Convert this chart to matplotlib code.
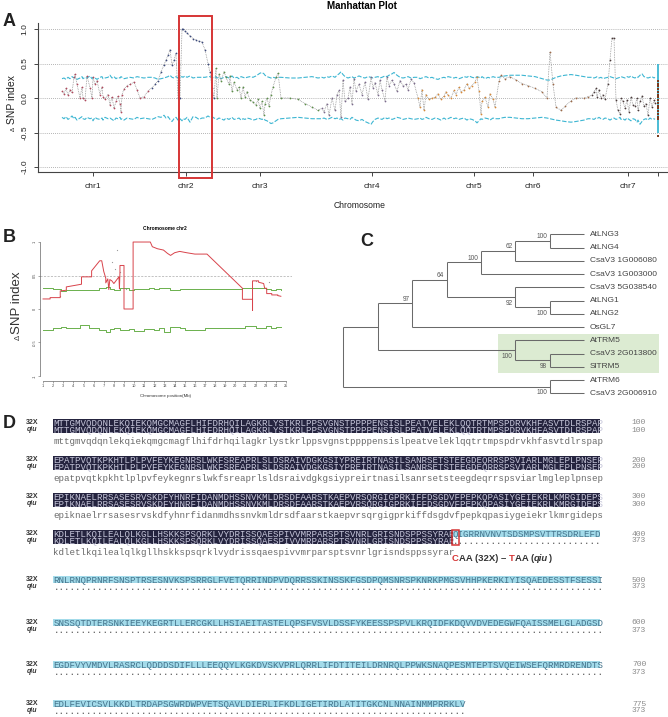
import matplotlib
matplotlib.use("Agg")
import matplotlib.pyplot as plt
from matplotlib.patches import Rectangle

plt.rcParams["font.family"] = ["Liberation Sans", "DejaVu Sans"]

# ---------------------------------------------------------------------------
# Panel A data: delta SNP index along the genome (cumulative position units)
# ---------------------------------------------------------------------------
chr1_pos = [62, 64, 66, 68, 70, 72, 74, 75, 77, 80, 82, 83, 85, 87, 90, 92, 93, 95, 97, 100,
            102, 103, 105, 108, 110, 112, 114, 116, 118, 120, 121, 122, 124, 127, 130, 134, 137, 140, 144, 148]
chr1_val = [0.10, 0.06, 0.14, 0.04, 0.12, 0.08, 0.30, 0.35, 0.20, 0.00, 0.16, 0.00, -0.03, 0.32, 0.15, 0.00, 0.30, 0.20, 0.25, 0.05,
            0.16, 0.02, -0.02, 0.05, -0.10, 0.02, -0.15, -0.05, 0.03, -0.08, -0.20, 0.05, 0.13, 0.18, 0.20, 0.23, 0.12, 0.00, 0.02, 0.10]
chr1_up = [0.28, 0.29, 0.27, 0.30, 0.28, 0.31, 0.29, 0.30, 0.27, 0.29, 0.31, 0.28, 0.30, 0.29, 0.32, 0.28, 0.30, 0.29, 0.27, 0.30,
           0.31, 0.28, 0.29, 0.30, 0.33, 0.29, 0.31, 0.28, 0.30, 0.29, 0.31, 0.30, 0.28, 0.29, 0.30, 0.29, 0.31, 0.30, 0.29, 0.30]
chr1_lo = [-0.28, -0.30, -0.27, -0.31, -0.29, -0.26, -0.30, -0.28, -0.32, -0.29, -0.27, -0.30, -0.31, -0.28, -0.30, -0.29, -0.33, -0.28, -0.30, -0.31,
           -0.29, -0.32, -0.28, -0.30, -0.29, -0.31, -0.33, -0.29, -0.30, -0.28, -0.31, -0.30, -0.32, -0.29, -0.30, -0.31, -0.28, -0.30, -0.29, -0.30]

chr2_pos = [152, 155, 158, 161, 164, 166, 168, 170, 172, 174, 176, 178, 180, 182, 183, 185, 187, 190, 193, 196,
            199, 202, 205, 208, 210, 212, 214]
chr2_val = [0.15, 0.20, 0.25, 0.38, 0.48, 0.55, 0.62, 0.70, 0.48, 0.55, 0.65, 0.00, 0.00, 1.00, 1.00, 0.97, 0.94, 0.90, 0.86, 0.84,
            0.82, 0.81, 0.70, 0.50, 0.37, 0.15, 0.00]
chr2_up = [0.30, 0.29, 0.27, 0.28, 0.29, 0.30, 0.31, 0.33, 0.30, 0.29, 0.31, 0.29, 0.30, 0.31, 0.30, 0.32, 0.30, 0.32, 0.29, 0.30,
           0.30, 0.30, 0.30, 0.31, 0.31, 0.30, 0.29]
chr2_lo = [-0.31, -0.29, -0.27, -0.28, -0.25, -0.29, -0.27, -0.31, -0.34, -0.30, -0.28, -0.32, -0.30, -0.33, -0.30, -0.31, -0.28, -0.35, -0.27, -0.28,
           -0.31, -0.29, -0.29, -0.26, -0.28, -0.27, -0.29]

chr3_pos = [216, 217, 219, 221, 224, 226, 229, 230, 232, 234, 237, 239, 241, 243, 245, 247, 250, 253, 256, 258,
            260, 262, 264, 265, 267, 269, 271, 273, 276, 278, 281, 290, 298, 305, 312, 318]
chr3_val = [0.43, 0.00, 0.35, 0.25, 0.38, 0.30, 0.20, 0.32, 0.10, 0.23, 0.12, 0.16, 0.00, 0.16, 0.02, 0.09, -0.03, -0.06, -0.10, -0.02,
            -0.15, -0.05, -0.25, -0.08, 0.00, -0.12, 0.05, 0.16, 0.30, 0.36, 0.00, 0.00, -0.02, -0.08, -0.13, -0.18]
chr3_up = [0.31, 0.29, 0.30, 0.28, 0.30, 0.31, 0.29, 0.30, 0.32, 0.29, 0.30, 0.28, 0.31, 0.30, 0.29, 0.30, 0.31, 0.30, 0.32, 0.34,
           0.36, 0.37, 0.35, 0.33, 0.31, 0.30, 0.29, 0.30, 0.29, 0.30, 0.30, 0.29, 0.29, 0.30, 0.31, 0.29]
chr3_lo = [-0.30, -0.31, -0.29, -0.30, -0.32, -0.29, -0.31, -0.30, -0.28, -0.31, -0.30, -0.29, -0.32, -0.30, -0.31, -0.29, -0.30, -0.32, -0.31, -0.29,
           -0.30, -0.31, -0.30, -0.32, -0.33, -0.35, -0.37, -0.36, -0.33, -0.31, -0.30, -0.29, -0.28, -0.29, -0.30, -0.30]

chr4_pos = [322, 324, 327, 329, 332, 335, 337, 339, 341, 343, 345, 348, 350, 352, 354, 356, 359, 362, 365, 368,
            371, 373, 375, 378, 380, 382, 385, 387, 389, 392, 394, 397, 400, 403, 406, 408, 411, 414]
chr4_val = [-0.15, -0.20, -0.08, -0.25, 0.00, -0.18, 0.05, 0.11, -0.28, 0.26, -0.05, 0.00, 0.16, -0.08, 0.28, 0.10, 0.20, 0.05, 0.23, -0.02,
            0.30, 0.15, 0.22, 0.05, 0.26, 0.12, -0.04, 0.30, 0.18, 0.26, 0.20, 0.10, 0.25, 0.18, 0.20, 0.12, 0.27, 0.22]
chr4_up = [0.30, 0.29, 0.31, 0.30, 0.32, 0.30, 0.33, 0.35, 0.38, 0.34, 0.31, 0.29, 0.30, 0.31, 0.29, 0.30, 0.32, 0.30, 0.29, 0.31,
           0.30, 0.29, 0.30, 0.31, 0.29, 0.30, 0.32, 0.31, 0.33, 0.35, 0.37, 0.33, 0.30, 0.29, 0.30, 0.31, 0.29, 0.30]
chr4_lo = [-0.30, -0.29, -0.31, -0.30, -0.28, -0.30, -0.29, -0.31, -0.30, -0.32, -0.29, -0.30, -0.31, -0.28, -0.30, -0.32, -0.33, -0.31, -0.34, -0.36,
           -0.38, -0.34, -0.31, -0.29, -0.30, -0.31, -0.28, -0.30, -0.29, -0.31, -0.30, -0.28, -0.29, -0.31, -0.30, -0.29, -0.30, -0.31]

chr5_pos = [418, 420, 422, 424, 426, 429, 432, 435, 438, 441, 444, 446, 448, 451, 454, 456, 459, 461, 464, 467,
            469, 472, 475, 477, 479, 481, 482, 485, 488, 490, 493, 495]
chr5_val = [0.00, -0.13, 0.12, -0.18, 0.05, -0.02, 0.00, 0.01, 0.06, -0.02, 0.03, 0.09, 0.04, 0.00, 0.11, 0.05, 0.16, 0.09, 0.12, 0.21,
            0.14, 0.18, 0.23, 0.31, 0.10, -0.23, -0.05, 0.01, -0.13, 0.06, -0.02, -0.13]
chr5_up = [0.30, 0.28, 0.29, 0.30, 0.31, 0.29, 0.30, 0.28, 0.27, 0.29, 0.30, 0.29, 0.31, 0.30, 0.29, 0.30, 0.28, 0.29, 0.31, 0.30,
           0.32, 0.30, 0.29, 0.31, 0.30, 0.29, 0.31, 0.28, 0.30, 0.29, 0.31, 0.30]
chr5_lo = [-0.30, -0.29, -0.31, -0.30, -0.28, -0.30, -0.31, -0.29, -0.30, -0.32, -0.29, -0.31, -0.30, -0.28, -0.30, -0.29, -0.31, -0.30, -0.29, -0.32,
           -0.30, -0.31, -0.33, -0.36, -0.33, -0.30, -0.31, -0.29, -0.30, -0.32, -0.29, -0.30]

chr6_pos = [499, 501, 505, 510, 516, 522, 528, 535, 542, 547, 550, 553, 556, 561, 565, 571, 576, 584, 588]
chr6_val = [0.25, 0.33, 0.28, 0.31, 0.26, 0.21, 0.18, 0.14, 0.09, 0.00, 0.67, 0.20, -0.13, -0.18, -0.12, -0.04, 0.00, 0.00, 0.02]
chr6_up = [0.30, 0.31, 0.32, 0.33, 0.33, 0.33, 0.32, 0.31, 0.28, 0.26, 0.26, 0.28, 0.30, 0.32, 0.33, 0.34, 0.33, 0.31, 0.30]
chr6_lo = [-0.30, -0.29, -0.28, -0.28, -0.29, -0.30, -0.30, -0.29, -0.28, -0.29, -0.30, -0.31, -0.32, -0.33, -0.34, -0.35, -0.34, -0.32, -0.30]

chr7_pos = [592, 594, 596, 597, 599, 601, 603, 605, 608, 610, 612, 614, 616, 618, 620, 621, 623, 625, 627, 629,
            631, 633, 635, 637, 638, 640, 642, 644, 646, 648, 650, 652, 654, 655]
chr7_val = [0.04, 0.09, 0.14, 0.02, 0.12, 0.00, 0.05, -0.02, 0.21, 0.55, 0.87, 0.87, -0.03, -0.18, -0.23, 0.00, -0.05, -0.15, -0.03, -0.20,
            0.01, -0.10, -0.11, 0.00, -0.18, -0.05, 0.03, -0.12, -0.08, -0.25, 0.00, -0.13, -0.03, -0.07]
chr7_up = [0.30, 0.29, 0.30, 0.31, 0.29, 0.30, 0.28, 0.29, 0.30, 0.31, 0.30, 0.29, 0.28, 0.29, 0.30, 0.31, 0.30, 0.29, 0.31, 0.30,
           0.32, 0.30, 0.29, 0.31, 0.30, 0.33, 0.35, 0.31, 0.30, 0.29, 0.30, 0.31, 0.29, 0.30]
chr7_lo = [-0.30, -0.31, -0.29, -0.30, -0.28, -0.30, -0.31, -0.29, -0.30, -0.32, -0.30, -0.29, -0.31, -0.30, -0.28, -0.31, -0.30, -0.32, -0.29, -0.31,
           -0.33, -0.30, -0.31, -0.35, -0.32, -0.38, -0.34, -0.31, -0.30, -0.32, -0.29, -0.31, -0.30, -0.31]

scaf_pos = 658
scaf_val = [0.25, 0.21, 0.17, 0.13, 0.09, 0.05, 0.01, -0.03, -0.07, -0.11, -0.15, -0.19, -0.23, -0.27, -0.30, -0.55]
scaf_up, scaf_lo = 0.50, -0.50

chr_colors = ["#b04a5e", "#3d4b7c", "#5d8f4b", "#7c6b8c", "#d68a3a", "#9c6b4a", "#4b3b3b"]
chr_ticks = [93, 186, 260, 372, 474, 533, 628, 658]
chr_labels = ["chr1", "chr2", "chr3", "chr4", "chr5", "chr6", "chr7", ""]

# ---------------------------------------------------------------------------
# Panel B data: chromosome 2 zoom (Mb)
# ---------------------------------------------------------------------------
b_pos = [1.0, 1.7, 1.7, 2.7, 2.7, 3.3, 3.3, 4.8, 4.8, 5.8, 5.8, 6.6, 6.8, 7.0, 7.2, 7.2, 7.4, 7.5, 7.6, 7.8,
         8.0, 8.2, 8.5, 8.55, 8.6, 8.6, 9.0, 9.0, 9.9, 9.9, 11.6, 11.8, 12.3, 12.9, 13.3, 13.6, 14.0, 14.5, 15.2, 16.0,
         17.2, 20.7, 20.7, 21.7, 21.7, 21.7, 22.3, 22.3, 22.8, 22.9, 23.1, 23.1, 23.6, 23.6, 24.2, 24.2, 24.5]
b_val = [0.15, 0.15, 0.17, 0.17, 0.27, 0.28, 0.33, 0.37, 0.48, 0.48, 0.57, 0.72, 0.72, 0.56, 0.46, 0.39, 0.45, 0.29, 0.44, 0.42,
         0.38, 0.42, 0.48, 0.30, 0.55, 0.65, 0.65, 0.00, 0.00, 1.00, 1.00, 0.93, 0.90, 0.88, 0.83, 0.80, 0.84, 0.86, 0.84, 0.82,
         0.82, 0.31, 0.145, 0.145, -0.02, 0.42, 0.42, 0.40, 0.38, 0.31, 0.31, 0.23, 0.23, 0.21, 0.21, 0.20, 0.19]
b_thr_pos = [1.0, 2.0, 2.8, 3.3, 4.5, 4.7, 5.5, 6.5, 7.2, 7.6, 8.0, 8.6, 9.5, 10.0, 11.0, 11.5, 12.0, 12.5, 13.0, 13.5,
             14.5, 15.0, 17.0, 20.7, 21.0, 22.0, 23.0, 23.5, 24.0, 24.5]
b_thr_up = [0.31, 0.30, 0.27, 0.28, 0.29, 0.29, 0.29, 0.31, 0.33, 0.30, 0.29, 0.31, 0.29, 0.30, 0.30, 0.32, 0.30, 0.31, 0.32, 0.29,
            0.30, 0.30, 0.30, 0.31, 0.31, 0.31, 0.30, 0.28, 0.30, 0.29]
b_thr_lo = [-0.31, -0.29, -0.27, -0.28, -0.28, -0.24, -0.29, -0.31, -0.34, -0.30, -0.28, -0.32, -0.30, -0.33, -0.30, -0.30, -0.31, -0.28, -0.35, -0.27,
            -0.28, -0.31, -0.29, -0.29, -0.26, -0.28, -0.26, -0.29, -0.27, -0.27]
b_snp_pos = [2.7, 7.4, 7.8, 8.1, 8.3, 8.6, 9.2, 22.0, 23.3]
b_snp_val = [0.20, 0.35, 0.70, 0.60, 0.88, 0.55, 0.30, 0.42, 0.40]

# ---------------------------------------------------------------------------
# Panel C data: phylogeny (support, child, child); leaves are strings
# ---------------------------------------------------------------------------
tree = (None,
        (None,
         (97,
          (64,
           (100,
            (62, (100, "AtLNG3", "AtLNG4"), "CsaV3 1G006080"),
            "CsaV3 1G003000"),
           (92, "CsaV3 5G038540", (100, "AtLNG1", "AtLNG2"))),
          "OsGL7"),
         (100, "AtTRM5", (98, "CsaV3 2G013800", "SlTRM5"))),
        (100, "AtTRM6", "CsaV3 2G006910"))
highlight_leaves = ["AtTRM5", "CsaV3 2G013800", "SlTRM5"]

# ---------------------------------------------------------------------------
# Panel D data: protein alignment
# ---------------------------------------------------------------------------
seq_32x = (
    "MTTGMVQDQNLEKQIEKQMGCMAGFLHIFDRHQILAGKRLYSTKRLPPSVGNSTPPPPENSISLPEATVELEKLQQTRTMPSPDRVKHFASVTDLRSPAP"
    "EPATPVQTKPKHTLPLPVFEYKEGNRSLWKFSREAPRLSLDSRAIVDGKGSIYPREIRTNASILSANRSETSTEEGDEQRRSPSVIARLMGLEPLPNSEP"
    "EPIKNAELRRSASESRVSKDFYHNRFIDANMDHSSNVKMLDRSDFAARSTKAEPVRSQRGIGPRKIFFDSGDVFPEPKQPASIYGEIEKRLKMRGIDEPS"
    "KDLETLKQILEALQLKGLLHSKKSPSQRKLVYDRISSQAESPIVVMRPARSPTSVNRLGRISNDSPPSSYRARQIGRRNVNVTSDSMPSVTTRSDRLEFD"
    "RNLRNQPRNRFSNSPTRSESNVKSPSRRGLFVETQRRINDPVDQRRSSKINSSKFGSDPQMSNRSPKNRKPMGSVHHPKERKIYISQAEDESSTFSESSI"
    "SNSSQTDTERSNKIEEYKEGRTLLERCGKLLHSIAEITASTELQPSFVSVLDSSFYKEESSPSPVLKRQIDFKDQVVDVEDEGWFQAISSMELGLADGSD"
    "EGDFVYVMDVLRASRCLQDDDSDIFLLLEEQQYLKGKDVSKVPRLQRRLIFDTITEILDRNRQLPPWKSNAQPESMTEPTSVQEIWSEFQRMRDRENDTS"
    "EDLFEVICSVLKKDLTRDAPSGWRDWPVETSQAVLDIERLIFKDLIGETIRDLATITGKCNLNNAINMMPRRKLV"
)
qiu_len = 373
block_tops = [423, 460, 497, 534, 580, 623, 665, 704]

# ---------------------------------------------------------------------------
W, H = 668, 717
fig = plt.figure(figsize=(W / 100, H / 100), dpi=100)


def px_axes(x0, y0, x1, y1, **kw):
    return fig.add_axes([x0 / W, 1 - y1 / H, (x1 - x0) / W, (y1 - y0) / H], **kw)


ov = fig.add_axes([0, 0, 1, 1], zorder=5)
ov.set_xlim(0, W)
ov.set_ylim(H, 0)
ov.axis("off")

# ---------------- Panel A ----------------
axA = px_axes(38, 23, 668, 172)
axA.set_xlim(38, 668)
axA.set_ylim(-1.072, 1.087)
for y in (-1, -0.5, 0, 0.5, 1):
    axA.axhline(y, color="#9c9c9c", lw=0.6, ls=(0, (1, 1.5)), zorder=0)

cyan = "#3db6d2"
chroms = [(chr1_pos, chr1_val, chr1_up, chr1_lo), (chr2_pos, chr2_val, chr2_up, chr2_lo),
          (chr3_pos, chr3_val, chr3_up, chr3_lo), (chr4_pos, chr4_val, chr4_up, chr4_lo),
          (chr5_pos, chr5_val, chr5_up, chr5_lo), (chr6_pos, chr6_val, chr6_up, chr6_lo),
          (chr7_pos, chr7_val, chr7_up, chr7_lo)]
all_pos, all_val, all_up, all_lo = [], [], [], []
for (pos, val, up, lo), col in zip(chroms, chr_colors):
    axA.scatter(pos, val, s=1.6, color=col, lw=0, zorder=4)
    all_pos += pos
    all_val += val
    all_up += up
    all_lo += lo
axA.plot(all_pos, all_up, color=cyan, lw=0.8, ls=(0, (4, 1.5)), zorder=2)
axA.plot(all_pos, all_lo, color=cyan, lw=0.8, ls=(0, (4, 1.5)), zorder=2)
axA.plot(all_pos, all_val, color="#8a8a8a", lw=0.55, ls=(0, (1, 1.2)), zorder=3)
axA.vlines(scaf_pos, scaf_lo, scaf_up, color=cyan, lw=1.3, zorder=3)
axA.scatter([scaf_pos] * len(scaf_val), scaf_val, s=3, marker="s", color="#7a3a1c", lw=0, zorder=4)

for side in ("top", "right"):
    axA.spines[side].set_visible(False)
for side in ("left", "bottom"):
    axA.spines[side].set_linewidth(0.8)
    axA.spines[side].set_color("#444444")
axA.set_yticks([-1, -0.5, 0, 0.5, 1])
axA.set_yticklabels(["-1.0", "-0.5", "0.0", "0.5", "1.0"], rotation=90, va="center")
axA.set_xticks(chr_ticks)
axA.set_xticklabels(chr_labels)
axA.tick_params(axis="both", labelsize=6, length=3, width=0.7, color="#444444", labelcolor="#222222")
axA.tick_params(axis="y", pad=4)
axA.tick_params(axis="x", pad=5)
axA.set_facecolor("none")

fig.text(362 / W, 1 - 6 / H, "Manhattan Plot", ha="center", va="center", fontsize=7, fontweight="bold")
ov.text(360, 206, "Chromosome", ha="center", va="center", fontsize=6.2, color="#222222")
ov.text(12, 100, "SNP index", ha="center", va="center", rotation=90, fontsize=7.5, color="#222222")
ov.text(13, 129, "Δ", ha="center", va="center", rotation=90, fontsize=4.5, color="#222222")
ov.add_patch(Rectangle((179, 16), 33, 162, fill=False, ec="#d63535", lw=1.4))

# ---------------- Panel B ----------------
axB = px_axes(40, 237, 292, 381)
axB.set_xlim(0.70, 25.6)
axB.set_ylim(-1.075, 1.075)
axB.axhline(0.5, color="#aaaaaa", lw=0.5, ls=(0, (3, 2)), zorder=0)
axB.plot(b_thr_pos, b_thr_up, color="#6ab04c", lw=0.7, drawstyle="steps-post")
axB.plot(b_thr_pos, b_thr_lo, color="#6ab04c", lw=0.7, drawstyle="steps-post")
axB.plot(b_pos, b_val, color="#d8434b", lw=0.7)
axB.scatter(b_snp_pos, b_snp_val, s=0.8, color="#999999", lw=0)
for side in ("top", "right"):
    axB.spines[side].set_visible(False)
axB.spines["left"].set_bounds(-1, 1)
axB.spines["bottom"].set_bounds(1, 25)
for side in ("left", "bottom"):
    axB.spines[side].set_linewidth(0.5)
    axB.spines[side].set_color("#666666")
axB.set_xticks(range(1, 26))
axB.set_yticks([-1, -0.5, 0, 0.5, 1])
axB.set_yticklabels(["-1", "-0.5", "0", "0.5", "1"], rotation=90, va="center")
axB.tick_params(axis="both", labelsize=2.8, length=1.5, width=0.4, pad=1, color="#666666", labelcolor="#444444")
axB.set_facecolor("none")

ov.text(165, 229, "Chromosome chr2", ha="center", va="center", fontsize=3.5, fontweight="bold")
ov.text(165, 396, "Chromosome position(Mb)", ha="center", va="center", fontsize=3.2, color="#333333")
ov.text(17, 303, "SNP index", ha="center", va="center", rotation=90, fontsize=9.5, color="#333333")
ov.text(18, 337, "Δ", ha="center", va="center", rotation=90, fontsize=5.5, color="#333333")

# ---------------- Panel C ----------------
tree_x0, depth_step = 343.3, 34.4
tree_top, leaf_step = 234.3, 13.25
line_kw = dict(color="#6a6a6a", lw=0.75, solid_capstyle="butt")


def height(n):
    return 0 if isinstance(n, str) else 1 + max(height(c) for c in n[1:])


leaves = []


def collect(n):
    if isinstance(n, str):
        leaves.append(n)
    else:
        for c in n[1:]:
            collect(c)


collect(tree)
root_h = height(tree)
hl = [leaves.index(name) for name in highlight_leaves]
ov.add_patch(Rectangle((497.7, tree_top + min(hl) * leaf_step - 6.5), 161.6,
                       (max(hl) - min(hl)) * leaf_step + 13, color="#dcebd2", lw=0, zorder=0))


def draw(n):
    x = tree_x0 + (root_h - height(n)) * depth_step
    if isinstance(n, str):
        y = tree_top + leaves.index(n) * leaf_step
        ov.text(x + 6, y, n, ha="left", va="center", fontsize=6, color="#444444")
        return x, y
    pts = [draw(c) for c in n[1:]]
    ys = [p[1] for p in pts]
    ov.plot([x, x], [ys[0], ys[-1]], **line_kw)
    for i, (c, (cx, cy)) in enumerate(zip(n[1:], pts)):
        ov.plot([x, cx], [cy, cy], **line_kw)
        if not isinstance(c, str) and c[0] is not None:
            dy = -4.3 if i == 0 else 6.0
            ov.text(cx - 2.5, cy + dy, str(c[0]), ha="right", va="center", fontsize=4.7, color="#555555")
    return x, (ys[0] + ys[-1]) / 2


draw(tree)

# ---------------- Panel D ----------------
x0, cw = 53.3, 5.47
mono = "Liberation Mono"
fs = 6.55
dark_bg, dark_fg = "#25243f", "#c4c4d8"
cyan_bg, cyan_fg = "#a3dbea", "#45748c"
for b, top in enumerate(block_tops):
    start = b * 100
    s32 = seq_32x[start:start + 100]
    n = len(s32)
    nq = max(0, min(qiu_len - start, n))
    r1, r2 = top - 3.7, top + 3.3
    if nq > 0:
        ov.add_patch(Rectangle((x0, r1), nq * cw, 7, color=dark_bg, lw=0, zorder=1))
        ov.add_patch(Rectangle((x0, r2), nq * cw, 7, color=dark_bg, lw=0, zorder=1))
        ov.text(x0, top + 2.8, s32[:nq], ha="left", va="baseline", family=mono, fontsize=fs, color=dark_fg, zorder=2)
        ov.text(x0, top + 9.8, s32[:nq], ha="left", va="baseline", family=mono, fontsize=fs, color=dark_fg, zorder=2)
        if b < 4:
            ov.text(x0, top + 21.3, s32[:nq].lower(), ha="left", va="baseline", family=mono, fontsize=fs,
                    color="#6a6a6a", zorder=2)
    if nq < n:
        ov.add_patch(Rectangle((x0 + nq * cw, r1), (n - nq) * cw, 7, color=cyan_bg, lw=0, zorder=1))
        ov.text(x0 + nq * cw, top + 2.8, s32[nq:], ha="left", va="baseline", family=mono, fontsize=fs,
                color=cyan_fg, zorder=2)
        ov.text(x0 + nq * cw, top + 9.8, "." * (n - nq), ha="left", va="baseline", family=mono, fontsize=fs,
                color="#444444", zorder=2)
    ov.text(32, top - 0.3, "32X", ha="center", va="center", fontsize=5, fontweight="bold", color="#333333")
    ov.text(32, top + 6.2, "qiu", ha="center", va="center", fontsize=5, fontweight="bold", fontstyle="italic",
            color="#333333")
    ov.text(639, top, str(start + n), ha="center", va="center", family=mono, fontsize=5.8, color="#8a8a8a")
    ov.text(639, top + 7, str(min(qiu_len, start + n)), ha="center", va="center", family=mono, fontsize=5.8,
            color="#8a8a8a")

# stop-codon annotation
stop_top = block_tops[3]
stop_idx = qiu_len - 300
ov.add_patch(Rectangle((x0 + stop_idx * cw - 0.7, stop_top - 4.2), cw + 1.4, 15.4, fill=False,
                       ec="#d63535", lw=1.1, zorder=3))
pieces = [("C", "#d63535", "normal"), ("AA (32X) – ", "#333333", "normal"), ("T", "#d63535", "normal"),
          ("AA (", "#333333", "normal"), ("qiu", "#333333", "italic"), (")", "#333333", "normal")]
prev = None
for txt, col, style in pieces:
    kw = dict(fontsize=6.8, fontweight="bold", color=col, fontstyle=style, va="bottom", ha="left")
    if prev is None:
        prev = ov.text(x0 + stop_idx * cw - 0.5, stop_top + 29, txt, **kw)
    else:
        prev = ov.annotate(txt, xy=(1, 0), xycoords=prev, **kw)

# panel letters
for letter, (lx, ly) in {"A": (9, 21), "B": (9, 238), "C": (367, 242), "D": (9, 424)}.items():
    ov.text(lx, ly, letter, ha="center", va="center", fontsize=13, fontweight="bold", color="#222222")

fig.savefig("out.png", dpi=100)
